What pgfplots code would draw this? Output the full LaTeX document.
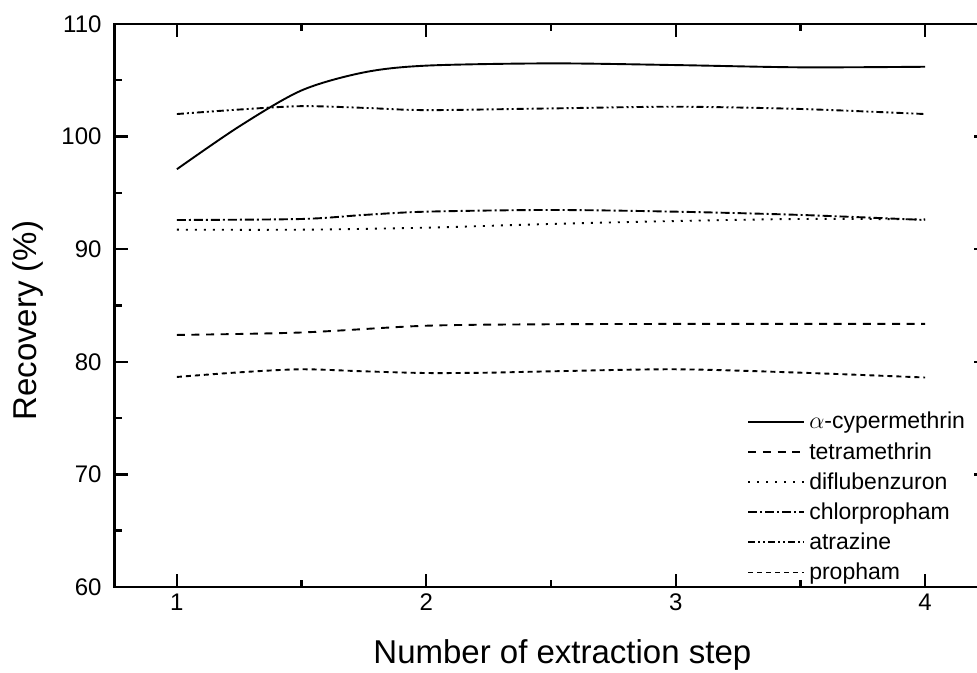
\documentclass[border=0pt]{standalone}
\usepackage{pgfplots}
\pgfplotsset{compat=1.18}
\usepackage{fontspec}
\setmainfont{Liberation Sans}

\begin{document}
\begin{tikzpicture}
\begin{axis}[
    scale only axis,
    width=436.5pt,
    height=281.5pt,
    xmin=0.75, xmax=4.25,
    ymin=60, ymax=110,
    xtick={1,2,3,4},
    ytick={60,70,80,90,100,110},
    minor x tick num=1,
    minor y tick num=1,
    tick align=inside,
    major tick length=6.5pt,
    minor tick length=3.5pt,
    axis line style={line width=1.4pt},
    tick style={line width=1.2pt, black},
    /pgf/number format/assume math mode=true,
    tick label style={font=\fontsize{12}{14}\selectfont},
    yticklabel style={xshift=-3pt},
    xlabel={Number of extraction step},
    ylabel={Recovery (\%)},
    every axis x label/.style={at={(axis description cs:0.513,-0.1208)}, anchor=center,
        font=\fontsize{16.5}{19}\selectfont},
    every axis y label/.style={at={(axis description cs:-0.0997,0.473)}, rotate=90, anchor=center,
        font=\fontsize{16.5}{19}\selectfont},
    legend cell align=left,
    legend style={draw=none, fill=none, inner sep=0pt,
        at={(axis description cs:0.7245,0.318)}, anchor=north west,
        font=\fontsize{11.5}{13}\selectfont, row sep=1.2pt},
    legend image code/.code={\draw[#1] (0pt,0pt) -- (28pt,0pt);},
    every axis plot/.append style={line width=0.95pt, black, smooth},
]
% alpha-cypermethrin
\addplot[solid] coordinates {
(1,97.1) (1.25,100.9) (1.5,104.1) (1.75,105.7) (2,106.3) (2.5,106.5) (3,106.35) (3.5,106.15) (4,106.2)};
\addlegendentry{$\alpha$-cypermethrin}
% tetramethrin
\addplot[dash pattern=on 4pt off 3.3pt] coordinates {
(1,82.38) (1.5,82.6) (2,83.2) (2.5,83.33) (3,83.36) (3.5,83.36) (4,83.36)};
\addlegendentry{tetramethrin}
% diflubenzuron
\addplot[dash pattern=on 1pt off 3.5pt] coordinates {
(1,91.73) (1.5,91.73) (2,91.91) (2.5,92.24) (3,92.5) (3.5,92.68) (4,92.65)};
\addlegendentry{diflubenzuron}
% chlorpropham
\addplot[dash pattern=on 4.5pt off 1.5pt on 1pt off 1.5pt] coordinates {
(1,92.59) (1.5,92.68) (1.75,93.04) (2,93.33) (2.5,93.48) (3,93.33) (3.5,93.04) (4,92.59)};
\addlegendentry{chlorpropham}
% atrazine
\addplot[dash pattern=on 3.5pt off 1.5pt on 1pt off 1.5pt on 1pt off 1.5pt] coordinates {
(1,102.0) (1.25,102.4) (1.5,102.7) (1.75,102.55) (2,102.35) (2.5,102.5) (3,102.65) (3.5,102.45) (4,102.0)};
\addlegendentry{atrazine}
% propham
\addplot[dash pattern=on 2.5pt off 2pt] coordinates {
(1,78.65) (1.25,79.06) (1.5,79.33) (1.75,79.15) (2,79.0) (2.25,79.03) (2.5,79.15) (3,79.33) (3.5,79.03) (4,78.6)};
\addlegendentry{propham}
\coordinate (bbA) at (rel axis cs:-0.1312,-0.1528);
\coordinate (bbB) at (rel axis cs:0.988,1.0426);
\end{axis}
\pgfresetboundingbox
\useasboundingbox (bbA) rectangle (bbB);
\end{tikzpicture}
\end{document}
